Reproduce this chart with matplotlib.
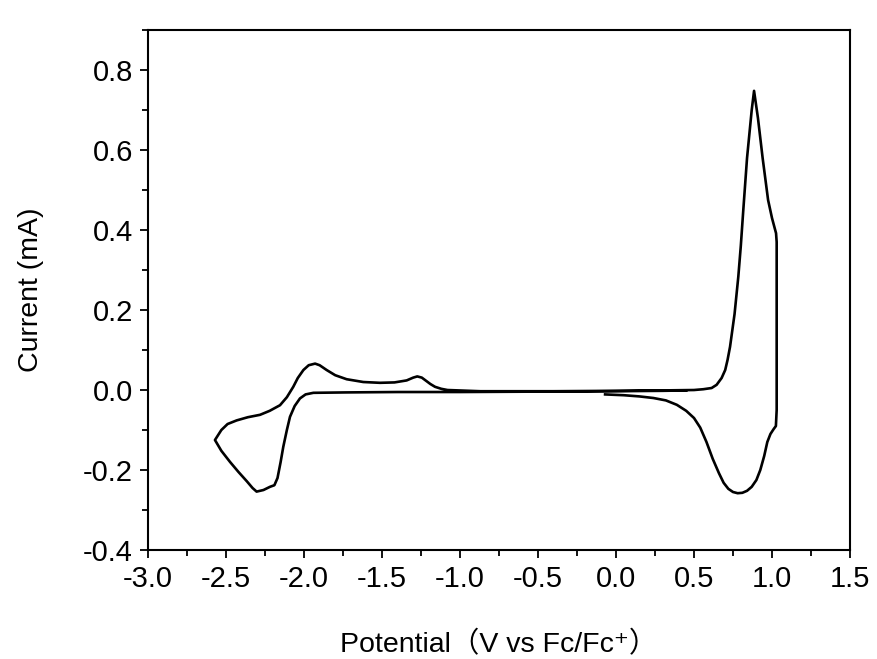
import matplotlib

matplotlib.use("Agg")
import matplotlib.pyplot as plt
from matplotlib.ticker import MultipleLocator

# cyclic voltammogram, traced in scan order
potential = [
    -0.07, 0.05, 0.15, 0.24, 0.32, 0.39, 0.45, 0.50, 0.54, 0.58, 0.62, 0.66, 0.69,
    0.72, 0.75, 0.78, 0.81, 0.84, 0.87, 0.90, 0.925, 0.95, 0.97, 0.99, 1.01, 1.025,
    1.03, 1.03, 1.03, 1.03, 1.026, 1.00, 0.975, 0.94, 0.91, 0.885, 0.87, 0.855,
    0.84, 0.816, 0.80, 0.784, 0.76, 0.731, 0.715, 0.70, 0.677, 0.645, 0.613, 0.56,
    0.50, 0.30, 0.0, -0.40, -0.87, -1.08, -1.12, -1.16, -1.19, -1.214, -1.245,
    -1.274, -1.30, -1.342, -1.42, -1.513, -1.62, -1.727, -1.80, -1.855, -1.90,
    -1.929, -1.97, -2.004, -2.04, -2.069, -2.11, -2.154, -2.22, -2.282, -2.36,
    -2.432, -2.49, -2.53, -2.571, -2.53, -2.474, -2.42, -2.367, -2.33, -2.304,
    -2.26, -2.218, -2.19, -2.17, -2.15, -2.133, -2.11, -2.09, -2.06, -2.026, -1.99,
    -1.94, -1.73, -1.40, -1.00, -0.50, 0.0, 0.30, 0.45,
]
current = [
    -0.011, -0.013, -0.016, -0.020, -0.026, -0.037, -0.052, -0.070, -0.094, -0.130,
    -0.172, -0.208, -0.232, -0.247, -0.255, -0.258, -0.257, -0.252, -0.242, -0.225,
    -0.200, -0.165, -0.130, -0.110, -0.098, -0.09, -0.05, 0.10, 0.25, 0.37, 0.392,
    0.43, 0.475, 0.58, 0.68, 0.748, 0.70, 0.64, 0.58, 0.45, 0.36, 0.283, 0.19,
    0.108, 0.075, 0.05, 0.030, 0.013, 0.005, 0.002, 0.0, -0.001, -0.002, -0.003,
    -0.003, 0.0, 0.003, 0.008, 0.015, 0.022, 0.031, 0.034, 0.031, 0.024, 0.019,
    0.018, 0.020, 0.027, 0.037, 0.050, 0.062, 0.066, 0.062, 0.050, 0.030, 0.008,
    -0.018, -0.038, -0.052, -0.062, -0.068, -0.076, -0.085, -0.100, -0.125, -0.152,
    -0.180, -0.205, -0.228, -0.245, -0.254, -0.250, -0.242, -0.238, -0.22, -0.18,
    -0.142, -0.10, -0.067, -0.040, -0.021, -0.011, -0.007, -0.006, -0.005, -0.005,
    -0.004, -0.003, -0.002, -0.001,
]

plt.rcParams["font.family"] = ["Liberation Sans", "Noto Sans CJK SC", "DejaVu Sans"]

fig = plt.figure(figsize=(8.77, 6.59), dpi=100)
ax = fig.add_axes([0.1688, 0.1654, 0.8004, 0.789])
ax.plot(potential, current, color="black", lw=1.9, solid_joinstyle="round")

ax.set_xlim(-3.0, 1.5)
ax.set_ylim(-0.4, 0.9)
ax.xaxis.set_major_locator(MultipleLocator(0.5))
ax.xaxis.set_minor_locator(MultipleLocator(0.25))
ax.yaxis.set_major_locator(MultipleLocator(0.2))
ax.yaxis.set_minor_locator(MultipleLocator(0.1))
ax.xaxis.set_major_formatter(plt.FuncFormatter(lambda v, p: f"{v:.1f}"))
ax.yaxis.set_major_formatter(plt.FuncFormatter(lambda v, p: f"{v:.1f}"))

ax.tick_params(which="major", direction="out", length=6, width=1.3, labelsize=21, pad=5)
ax.tick_params(which="minor", direction="out", length=4, width=1.3)
for s in ax.spines.values():
    s.set_linewidth(1.5)

ax.set_xlabel("Potential（V vs Fc/Fc⁺）", fontsize=20.5, va="baseline")
ax.xaxis.set_label_coords(0.5, -0.196)
ax.set_ylabel("Current (mA)", fontsize=20.5, va="center")
ax.yaxis.set_label_coords(-0.167, 0.5)

fig.savefig("out.png", dpi=100, facecolor="white")
